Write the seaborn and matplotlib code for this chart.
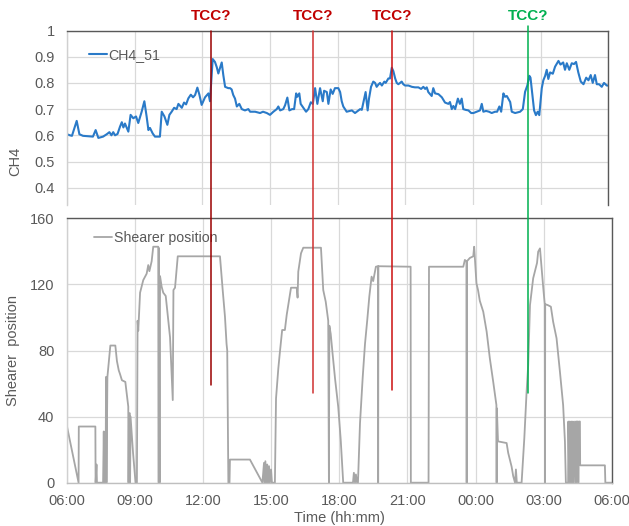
import matplotlib
matplotlib.use("Agg")
import matplotlib.pyplot as plt
from matplotlib.lines import Line2D
from matplotlib.ticker import FixedLocator, FuncFormatter
import matplotlib.transforms as mtransforms
import seaborn as sns
import pandas as pd

# Methane reading: hours after 06:00 and concentration
ch4_hours = [0.00, 0.13, 0.22, 0.43, 0.55, 0.71, 1.15, 1.27, 1.39, 1.60,
             1.76, 1.88, 1.97, 2.05, 2.13, 2.24, 2.35, 2.43, 2.50, 2.57,
             2.72, 2.82, 2.94, 3.06, 3.16, 3.31, 3.43, 3.53, 3.61, 3.68,
             3.80, 3.90, 4.12, 4.20, 4.32, 4.45, 4.54, 4.64, 4.75, 4.86,
             4.94, 5.09, 5.19, 5.28, 5.38, 5.49, 5.59, 5.68, 5.78, 5.87,
             5.97, 6.12, 6.27, 6.34, 6.46, 6.56, 6.64, 6.71, 6.78, 6.86,
             6.93, 7.01, 7.15, 7.23, 7.30, 7.37, 7.45, 7.53, 7.64, 7.75,
             7.89, 8.04, 8.12, 8.34, 8.56, 8.69, 8.86, 9.00, 9.15, 9.30,
             9.37, 9.45, 9.59, 9.67, 9.77, 9.86, 9.98, 10.07, 10.16, 10.21,
             10.30, 10.36, 10.48, 10.60, 10.70, 10.81, 10.90, 11.00, 11.10, 11.22,
             11.34, 11.40, 11.52, 11.59, 11.69, 11.78, 11.88, 12.03, 12.11, 12.18,
             12.25, 12.40, 12.55, 12.63, 12.70, 12.77, 12.92, 13.00, 13.07, 13.18,
             13.24, 13.33, 13.39, 13.48, 13.58, 13.66, 13.73, 13.80, 13.88, 13.96,
             14.07, 14.13, 14.25, 14.32, 14.40, 14.47, 14.55, 14.62, 14.69, 14.77,
             14.84, 14.91, 14.99, 15.14, 15.29, 15.43, 15.58, 15.70, 15.80, 15.88,
             15.95, 16.02, 16.10, 16.17, 16.24, 16.32, 16.47, 16.62, 16.76, 16.91,
             16.98, 17.06, 17.13, 17.21, 17.33, 17.42, 17.50, 17.57, 17.68, 17.80,
             17.92, 18.02, 18.17, 18.31, 18.39, 18.46, 18.58, 18.71, 18.83, 18.98,
             19.07, 19.17, 19.25, 19.35, 19.42, 19.50, 19.65, 19.72, 19.87, 20.09,
             20.21, 20.31, 20.41, 20.50, 20.55, 20.65, 20.71, 20.79, 20.87, 20.94,
             21.05, 21.12, 21.20, 21.27, 21.34, 21.42, 21.54, 21.64, 21.79, 21.88,
             22.00, 22.08, 22.16, 22.27, 22.38, 22.48, 22.57, 22.67, 22.78, 22.90,
             23.02, 23.12, 23.22, 23.31, 23.41, 23.49, 23.59, 23.71, 23.81, 23.93, 24.00]
ch4_values = [0.604, 0.600, 0.598, 0.655, 0.604, 0.598, 0.595, 0.620, 0.590, 0.595,
              0.604, 0.612, 0.600, 0.612, 0.600, 0.605, 0.633, 0.650, 0.630, 0.645,
              0.614, 0.678, 0.665, 0.672, 0.647, 0.690, 0.730, 0.672, 0.620, 0.628,
              0.607, 0.595, 0.595, 0.690, 0.672, 0.640, 0.678, 0.690, 0.705, 0.700,
              0.720, 0.705, 0.725, 0.718, 0.741, 0.755, 0.745, 0.754, 0.782, 0.755,
              0.716, 0.745, 0.760, 0.730, 0.891, 0.880, 0.860, 0.836, 0.855, 0.878,
              0.830, 0.785, 0.780, 0.780, 0.775, 0.754, 0.740, 0.710, 0.720, 0.700,
              0.695, 0.700, 0.690, 0.690, 0.685, 0.690, 0.685, 0.678, 0.690, 0.700,
              0.710, 0.695, 0.700, 0.715, 0.744, 0.695, 0.700, 0.700, 0.760, 0.747,
              0.760, 0.720, 0.705, 0.690, 0.700, 0.726, 0.720, 0.780, 0.720, 0.780,
              0.730, 0.770, 0.765, 0.720, 0.775, 0.758, 0.780, 0.780, 0.765, 0.730,
              0.710, 0.690, 0.693, 0.695, 0.690, 0.685, 0.695, 0.700, 0.697, 0.740,
              0.765, 0.695, 0.740, 0.785, 0.805, 0.800, 0.785, 0.793, 0.800, 0.790,
              0.805, 0.800, 0.817, 0.817, 0.858, 0.845, 0.817, 0.800, 0.795, 0.800,
              0.805, 0.795, 0.790, 0.790, 0.785, 0.783, 0.783, 0.777, 0.785, 0.777,
              0.783, 0.765, 0.757, 0.750, 0.780, 0.760, 0.757, 0.745, 0.725, 0.720,
              0.727, 0.700, 0.712, 0.700, 0.740, 0.720, 0.740, 0.700, 0.697, 0.695,
              0.685, 0.685, 0.690, 0.695, 0.720, 0.690, 0.693, 0.690, 0.685, 0.690,
              0.690, 0.710, 0.690, 0.760, 0.747, 0.750, 0.727, 0.690, 0.685, 0.690,
              0.700, 0.766, 0.790, 0.827, 0.820, 0.740, 0.695, 0.677, 0.690, 0.677,
              0.780, 0.810, 0.827, 0.850, 0.815, 0.840, 0.835, 0.862, 0.884, 0.870,
              0.878, 0.850, 0.875, 0.850, 0.875, 0.872, 0.880, 0.840, 0.805, 0.795,
              0.820, 0.810, 0.830, 0.800, 0.830, 0.795, 0.795, 0.785, 0.800, 0.790, 0.790]

# Shearer position along the face: hours after 06:00 and position
shearer_hours = [0.00, 0.51, 0.52, 1.25, 1.26, 1.30, 1.32, 1.59, 1.62, 1.64,
                 1.70, 1.72, 1.74, 1.78, 1.91, 2.13, 2.20, 2.28, 2.33, 2.42,
                 2.57, 2.70, 2.71, 2.73, 2.77, 2.78, 2.80, 2.91, 3.02, 3.08,
                 3.11, 3.14, 3.22, 3.36, 3.51, 3.58, 3.63, 3.73, 3.80, 4.02,
                 4.04, 4.05, 4.08, 4.10, 4.17, 4.24, 4.35, 4.44, 4.54, 4.66,
                 4.69, 4.76, 4.88, 6.74, 6.86, 6.96, 7.03, 7.06, 7.11, 7.16,
                 7.18, 8.06, 8.61, 8.68, 8.71, 8.74, 8.79, 8.82, 8.85, 8.90,
                 8.94, 8.99, 9.03, 9.16, 9.21, 9.31, 9.38, 9.48, 9.60, 9.68,
                 9.78, 9.87, 10.12, 10.16, 10.19, 10.31, 10.41, 11.19, 11.29, 11.40,
                 11.51, 11.54, 11.56, 11.62, 11.70, 11.81, 11.95, 12.06, 12.17, 12.60,
                 12.64, 12.69, 12.73, 12.78, 12.82, 12.91, 13.03, 13.13, 13.23, 13.32,
                 13.42, 13.49, 13.61, 13.70, 13.71, 13.72, 15.14, 15.15, 15.93, 15.95,
                 17.46, 17.53, 17.60, 17.61, 17.62, 17.75, 17.90, 17.94, 18.04, 18.11,
                 18.19, 18.34, 18.49, 18.63, 18.78, 18.92, 18.93, 18.94, 18.99, 19.37,
                 19.44, 19.59, 19.66, 19.74, 19.78, 19.82, 20.03, 20.15, 20.25, 20.32,
                 20.40, 20.54, 20.62, 20.71, 20.76, 20.84, 20.91, 20.98, 21.05, 21.06,
                 21.07, 21.18, 21.32, 21.42, 21.57, 21.72, 21.86, 21.94, 21.98, 22.08,
                 22.09, 22.13, 22.15, 22.20, 22.22, 22.26, 22.29, 22.33, 22.38, 22.42,
                 22.44, 22.51, 22.53, 22.56, 22.60, 22.61, 23.70, 23.72, 24.00]
shearer_values = [34, 0, 34, 34, 0, 11, 0, 0, 31, 0,
                  0, 64, 0, 64, 83, 83, 73.6, 68, 66, 62,
                  61, 46, 0, 42, 42, 0, 40, 18, 0, 0,
                  98, 92, 115, 122.6, 126.5, 131.7, 128, 134, 142.8, 142.8,
                  0, 142, 0, 125, 118.6, 115, 113, 101, 88, 50,
                  116.6, 118, 137, 137, 116.6, 100.5, 84, 80, 0, 0,
                  14, 14, 0, 12, 0, 13, 0, 11, 0, 10,
                  0, 8, 0, 0, 51, 69, 79, 92.4, 92.4, 101.5,
                  110, 118, 118, 112, 127.7, 138.8, 142.2, 142.2, 116.6, 109.5,
                  98, 0, 95, 90, 78.3, 63, 46, 26, 0, 0,
                  6, 0, 5, 0, 0, 36, 64, 84, 98.5, 112.6,
                  124.7, 122, 130.7, 131, 0, 131, 130.7, 0, 0, 130.7,
                  130.7, 134.8, 134, 0, 134, 136, 137, 142.8, 120.7, 116.6,
                  110, 103.5, 91.4, 75.3, 61, 47, 0, 45, 25, 24,
                  18, 9.7, 4, 0, 8, 0, 0, 27, 55, 71,
                  107.5, 123.7, 128, 133, 139.8, 141.8, 130, 118.6, 108, 0,
                  108, 107.5, 106.5, 97.4, 87.4, 67, 47, 24.8, 0, 0,
                  37, 0, 37, 0, 37, 0, 37, 0, 37, 0,
                  37, 37, 0, 37, 37, 10.5, 10.5, 0, 0]

# Suspected TCC events: hours after 06:00, label colour, line colour
tcc_hours = [6.40, 10.92, 14.43, 20.46]
tcc_label_colors = ["#c00000", "#c00000", "#c00000", "#00b050"]
tcc_line_colors = ["#9a0000", "#d03030", "#cc1010", "#00b050"]

tick_hours = [0, 3, 6, 9, 12, 15, 18, 21, 24]
tick_labels = ["06:00", "09:00", "12:00", "15:00", "18:00", "21:00", "00:00", "03:00", "06:00"]

sns.set_theme(style="whitegrid")
plt.rcParams["font.family"] = ["Liberation Sans", "DejaVu Sans"]

text_col = "#595959"
grid_col = "#d9d9d9"

fig = plt.figure(figsize=(6.29, 5.26), dpi=100)
W, H = 629, 526
ax_top = fig.add_axes([67 / W, 1 - 205 / H, (608.3 - 67) / W, (205 - 30.5) / H])
ax_bot = fig.add_axes([67 / W, 1 - 482.7 / H, (611.7 - 67) / W, (482.7 - 218.3) / H])

ch4_df = pd.DataFrame({"hours": ch4_hours, "CH4": ch4_values})
shear_df = pd.DataFrame({"hours": shearer_hours, "pos": shearer_values})

sns.lineplot(data=ch4_df, x="hours", y="CH4", ax=ax_top, sort=False, estimator=None,
             color="#2a7ac8", linewidth=1.5, label="CH4_51")
sns.lineplot(data=shear_df, x="hours", y="pos", ax=ax_bot, sort=False, estimator=None,
             color="#a6a6a6", linewidth=1.3, label="Shearer position")

for ax in (ax_top, ax_bot):
    ax.set_facecolor("white")
    ax.set_xlim(0, 24)
    ax.xaxis.set_major_locator(FixedLocator(tick_hours))
    ax.grid(True, color=grid_col, linewidth=0.9)
    ax.tick_params(length=0, colors=text_col, labelsize=10.5)
    ax.tick_params(axis="y", pad=9)
    ax.tick_params(axis="x", pad=8)
    ax.spines["left"].set_color("#d0d0d0")
    ax.spines["bottom"].set_color("#bfbfbf")
    ax.spines["top"].set_color("#595959")
    ax.spines["right"].set_color("#595959")
    for s in ax.spines.values():
        s.set_linewidth(1.0)

ax_top.set_ylim(0.334, 1.0)
ax_top.set_yticks([0.4, 0.5, 0.6, 0.7, 0.8, 0.9, 1.0])
ax_top.yaxis.set_major_formatter(FuncFormatter(lambda v, p: f"{v:g}"))
ax_top.set_xticklabels([])
ax_top.set_xlabel("")
ax_top.spines["bottom"].set_visible(False)
ax_top.set_ylabel("CH4", color=text_col, fontsize=10.5)
ax_top.yaxis.set_label_coords(-0.083, 0.25)

ax_bot.set_ylim(0, 160)
ax_bot.set_yticks([0, 40, 80, 120, 160])
ax_bot.set_xticklabels(tick_labels)
ax_bot.set_xlabel("Time (hh:mm)", color=text_col, fontsize=10.5, labelpad=2)
ax_bot.set_ylabel("Shearer  position", color=text_col, fontsize=10.5)
ax_bot.yaxis.set_label_coords(-0.086, 0.5)

for ax, anchor in ((ax_top, (0.03, 0.93)), (ax_bot, (0.04, 0.975))):
    leg = ax.legend(loc="upper left", bbox_to_anchor=anchor, frameon=False,
                    handlelength=1.25, handletextpad=0.15, borderaxespad=0,
                    fontsize=10.2)
    for t in leg.get_texts():
        t.set_color(text_col)

# TCC markers spanning both panels
trans = mtransforms.blended_transform_factory(ax_top.transData, fig.transFigure)
line_tops = [30.5, 30.5, 30.5, 26]
line_bottoms = [385, 393, 390, 393]
for h, lc, tc, y0, y1 in zip(tcc_hours, tcc_line_colors, tcc_label_colors, line_tops, line_bottoms):
    fig.add_artist(Line2D([h, h], [1 - y0 / H, 1 - y1 / H], transform=trans,
                          color=lc, linewidth=1.1, zorder=5))
    fig.text(h, 1 - 16 / H, "TCC?", transform=trans, ha="center", va="center",
             color=tc, fontsize=11, fontweight="bold")

fig.savefig("out.png", dpi=100)
